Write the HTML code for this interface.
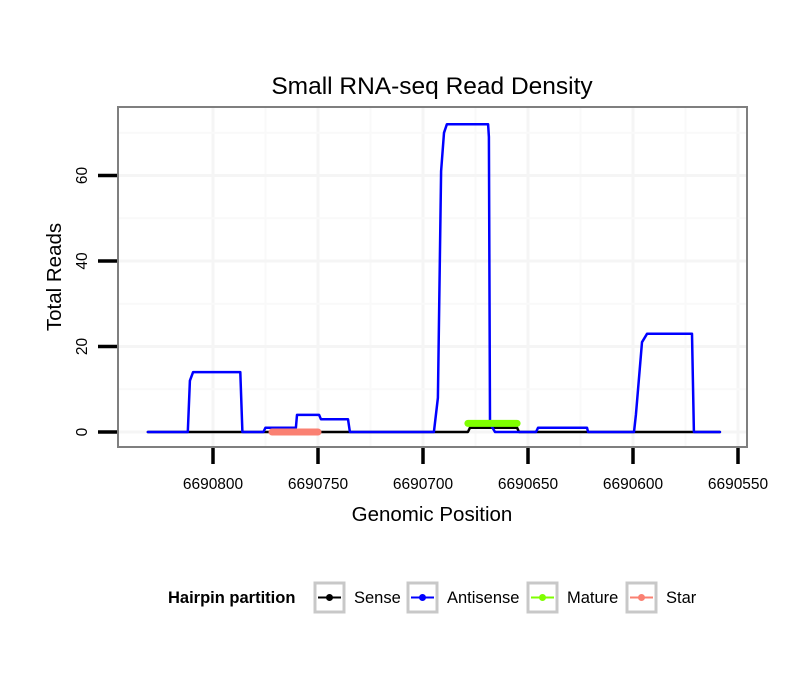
<!DOCTYPE html>
<html><head><meta charset="utf-8"><style>
body{margin:0;background:#fff}
svg{display:block;font-family:"Liberation Sans",sans-serif}
</style></head><body>
<svg id="chart" width="810" height="690">
<text x="432" y="94" font-size="24.5" text-anchor="middle">Small RNA-seq Read Density</text>
<g id="grid"></g><g id="series"></g><g id="axes"></g>
<rect x="118" y="107" width="629" height="340" fill="none" stroke="#7f7f7f" stroke-width="2"/>
<text x="432" y="521" font-size="20.5" text-anchor="middle">Genomic Position</text>
<text transform="translate(61,277) rotate(-90)" font-size="20.5" text-anchor="middle">Total Reads</text>
<g id="legend">
<text x="168" y="603" font-size="16.5" font-weight="bold">Hairpin partition</text>
</g>
</svg>
<script>
const xTicks=[6690800,6690750,6690700,6690650,6690600,6690550];
const yTicks=[0,20,40,60];
const antisensePos=[6690831,6690812,6690811,6690809.5,6690787,6690786,6690776,6690775,6690760.5,6690760,6690749.5,6690748.6,6690735.7,6690734.8,6690694.8,6690692.9,6690691.4,6690690,6690688.6,6690669,6690668.6,6690668.1,6690665.7,6690646.2,6690645.2,6690621.9,6690621.4,6690599.5,6690598.6,6690595.7,6690593.3,6690571.9,6690571,6690558.6];
const antisenseVal=[0,0,12,14,14,0,0,1,1,4,4,3,3,0,0,8,61,70,72,72,69,2,0,0,1,1,0,0,4,21,23,23,0,0];
const sensePos=[6690831,6690678.6,6690677.6,6690655.2,6690654.3,6690558.6];
const senseVal=[0,0,1,1,0,0];
const maturePos=[6690678.6,6690655.2];
const matureVal=[2,2];
const starPos=[6690771.9,6690750];
const starVal=[0,0];
const legendLabels=["Sense","Antisense","Mature","Star"];
const legendColors=["#000000","#0000ff","#7fff00","#fa8072"];

const X=p=>213+(6690800-p)*2.1;
const Y=v=>432-v*4.275;
const NS="http://www.w3.org/2000/svg";
function mk(t,a,parent){const e=document.createElementNS(NS,t);for(const k in a)e.setAttribute(k,a[k]);document.getElementById(parent).appendChild(e);return e;}
for(let i=0;i<xTicks.length;i++){const g=mk('line',{x1:X(xTicks[i]),x2:X(xTicks[i]),y1:108,y2:446,stroke:'#f5f5f5','stroke-width':3},'grid');


if(i<xTicks.length-1){const m=(xTicks[i]+xTicks[i+1])/2;const gm=mk('line',{x1:X(m),x2:X(m),y1:108,y2:446,stroke:'#f9f9f9','stroke-width':2},'grid');

}}
for(let i=0;i<yTicks.length;i++){const g=mk('line',{x1:119,x2:746,y1:Y(yTicks[i]),y2:Y(yTicks[i]),stroke:'#f5f5f5','stroke-width':3},'grid');


const m=yTicks[i]+10;const gm=mk('line',{x1:119,x2:746,y1:Y(m),y2:Y(m),stroke:'#f9f9f9','stroke-width':2},'grid');

}
xTicks.forEach(t=>{const l=mk('line',{x1:X(t),x2:X(t),y1:448,y2:464,stroke:'#000','stroke-width':3.5},'axes');


const tx=mk('text',{x:X(t),y:489,'font-size':15.5,'text-anchor':'middle'},'axes');tx.textContent=t;

});
yTicks.forEach(t=>{const l=mk('line',{x1:98,x2:117,y1:Y(t),y2:Y(t),stroke:'#000','stroke-width':3.5},'axes');


const tx=mk('text',{transform:`translate(87,${Y(t)}) rotate(-90)`,'font-size':15.5,'text-anchor':'middle'},'axes');tx.textContent=t;

});
function line(pos,val,color,w,name){const d=pos.map((p,i)=>(i?'L':'M')+X(p).toFixed(1)+','+Y(val[i]).toFixed(1)).join('');
const e=mk('path',{d:d,fill:'none',stroke:color,'stroke-width':w,'stroke-linejoin':'round','stroke-linecap':'round'},'series');

}
line(sensePos,senseVal,'#000',2.5,'sense-line');
line(antisensePos,antisenseVal,'#0000ff',2.5,'antisense-line');
line(maturePos,matureVal,'#7fff00',7,'mature-line');
line(starPos,starVal,'#fa8072',7,'star-line');
const lx=[315,408,528,627];
legendLabels.forEach((lab,i)=>{const b=mk('rect',{x:lx[i],y:583,width:29,height:29,fill:'#fff',stroke:'#c8c8c8','stroke-width':3},'legend');


const l=mk('line',{x1:lx[i]+3,x2:lx[i]+26,y1:597.5,y2:597.5,stroke:legendColors[i],'stroke-width':2},'legend');


const c=mk('circle',{cx:lx[i]+14.5,cy:597.5,r:3.5,fill:legendColors[i]},'legend');


const t=mk('text',{x:lx[i]+39,y:603,'font-size':16.5},'legend');t.textContent=lab;

});
</script>
</body></html>
